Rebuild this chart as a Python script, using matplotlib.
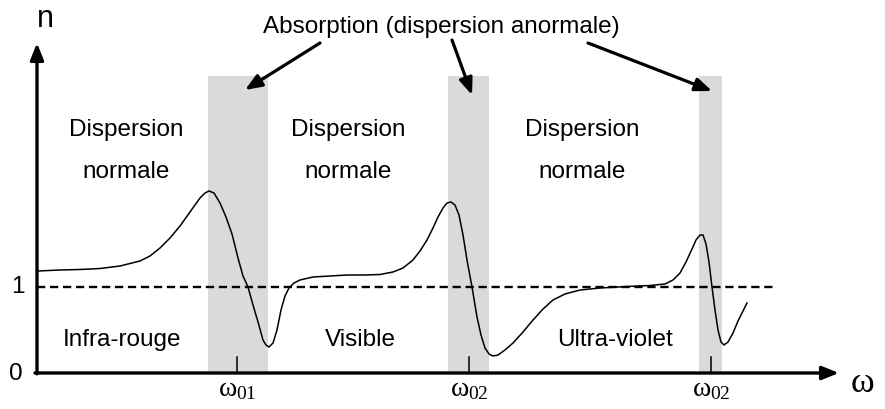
import matplotlib.pyplot as plt

plt.rcParams['mathtext.fontset'] = 'custom'
plt.rcParams['mathtext.rm'] = 'Liberation Serif'
plt.rcParams['mathtext.it'] = 'Liberation Serif'

# omega positions (arbitrary units) and index n
omega = [38, 60, 80, 100, 120, 140, 150, 160, 170, 180, 190, 200, 205, 209, 214, 220,
         226, 232, 238, 243, 248, 253, 258, 263, 266, 269, 273, 277, 281, 285, 289,
         294, 300, 313, 330, 347, 365, 380, 393, 403, 413, 420, 427, 433, 438, 443,
         447, 451, 455, 459, 463, 467, 472, 477, 481, 485, 489, 493, 498, 505, 513,
         523, 533, 543, 553, 565, 580, 600, 627, 650, 665, 673, 680, 686, 692, 696,
         700, 703, 706, 709, 712, 715, 718, 721, 724, 728, 733, 738, 743, 747]
n_pix = [271, 270, 269.5, 268.5, 266, 261, 256, 248, 238, 226, 212, 198, 193, 191, 193, 203,
         217, 234, 258, 276, 287, 305, 322, 340, 345, 347, 343, 330, 310, 296, 288,
         283, 280, 277, 276, 275, 275, 274.5, 272, 268, 260, 251, 240, 228, 217, 208,
         203, 202, 205, 215, 235, 260, 287, 317, 335, 348, 354, 356, 355, 350, 343,
         332, 320, 309, 300, 294, 290, 288, 286.5, 285.5, 284, 280, 273, 262, 249, 240,
         235, 235, 244, 262, 287, 310, 330, 342, 345, 342, 333, 321, 311, 303]
n_vals = [(373 - p) / 86 for p in n_pix]

bands = [(208, 268), (448, 489), (699, 722)]
resonances = [237, 469, 711]
res_labels = ['01', '02', '02']

fig = plt.figure(figsize=(8.85, 4.09), dpi=100)
ax = fig.add_axes([0, 0, 1, 1])
ax.set_xlim(0, 885)
ax.set_ylim(-36 / 86, 373 / 86)
ax.axis('off')

band_top = (373 - 76) / 86
for x0, x1 in bands:
    ax.fill_between([x0, x1], 0, band_top, color='#dadada', lw=0, zorder=1)

# n = 1 line
ax.plot([37, 773], [1, 1], color='black', lw=1.7, ls=(0, (3.5, 2)), zorder=2)

ax.plot(omega, n_vals, color='black', lw=1.1, zorder=3)

head = '-|>,head_length=1.0,head_width=0.4'
# axes with arrows
ax.annotate('', xy=(839, 0), xytext=(35, 0),
            arrowprops=dict(arrowstyle=head, lw=2.4, color='black',
                            shrinkA=0, shrinkB=0), zorder=4)
ax.annotate('', xy=(37, (373 - 43) / 86), xytext=(37, -0.01),
            arrowprops=dict(arrowstyle=head, lw=2.4, color='black',
                            shrinkA=0, shrinkB=0), zorder=4)

for x, lab in zip(resonances, res_labels):
    ax.plot([x, x], [0, 16 / 86], color='black', lw=1.1, zorder=3)
    ax.text(x, (373 - 396) / 86, r'$\omega_{%s}$' % lab, ha='center', va='baseline',
            fontsize=20)

sans = 'Liberation Sans'
fs = 17.5
ax.text(18, 1, '1', ha='center', va='center', fontsize=fs, family=sans)
ax.text(16, -0.01, '0', ha='center', va='center', fontsize=fs, family=sans)
ax.text(45, (373 - 19) / 86, 'n', ha='center', va='center', fontsize=22, family=sans)
ax.text(862, (373 - 382) / 86, r'$\omega$', ha='center', va='center', fontsize=26)

for x in [126, 348, 582]:
    ax.text(x, (373 - 130) / 86, 'Dispersion', ha='center', va='center', fontsize=fs, family=sans)
    ax.text(x, (373 - 172) / 86, 'normale', ha='center', va='center', fontsize=fs, family=sans)
for x, lab in zip([122, 360, 615], ['Infra-rouge', 'Visible', 'Ultra-violet']):
    ax.text(x, (373 - 340) / 86, lab, ha='center', va='center', fontsize=fs, family=sans)

ax.text(441, (373 - 27) / 86, 'Absorption (dispersion anormale)', ha='center',
        va='center', fontsize=fs, family=sans)
arrows = [((320, 43), (245, 90)), ((452, 40), (472, 95)), ((588, 43), (712, 91))]
for (x0, y0), (x1, y1) in arrows:
    ax.annotate('', xy=(x1, (373 - y1) / 86), xytext=(x0, (373 - y0) / 86),
                arrowprops=dict(arrowstyle=head, lw=2.3, color='black',
                                shrinkA=0, shrinkB=0))

fig.savefig('out.png', dpi=100)
